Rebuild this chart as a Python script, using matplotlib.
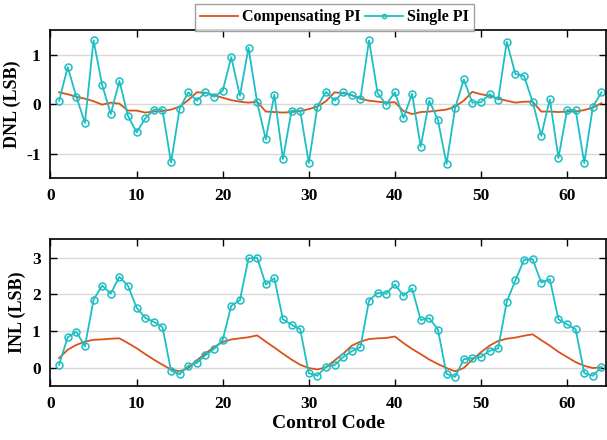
import numpy as np
import matplotlib
matplotlib.use("Agg")
import matplotlib.pyplot as plt

codes = list(range(1, 65))

dnl_comp = [0.24, 0.20, 0.15, 0.11, 0.06, -0.01, 0.03, 0.01, -0.13, -0.13,
            -0.17, -0.15, -0.14, -0.11, -0.05, 0.08, 0.24, 0.23, 0.18, 0.13,
            0.08, 0.05, 0.03, 0.05, -0.15, -0.16, -0.17, -0.16, -0.14, -0.10,
            -0.05, 0.06, 0.24, 0.22, 0.18, 0.11, 0.07, 0.05, 0.03, 0.04,
            -0.14, -0.20, -0.16, -0.15, -0.13, -0.11, -0.05, 0.07, 0.25, 0.20,
            0.17, 0.11, 0.07, 0.03, 0.05, 0.05, -0.15, -0.15, -0.16, -0.15,
            -0.15, -0.12, -0.07, 0.02]

dnl_single = [0.07, 0.75, 0.15, -0.38, 1.29, 0.39, -0.20, 0.47, -0.24, -0.57,
              -0.29, -0.11, -0.11, -1.18, -0.09, 0.24, 0.07, 0.24, 0.15, 0.27,
              0.95, 0.17, 1.14, 0.04, -0.71, 0.19, -1.11, -0.13, -0.13, -1.19,
              -0.05, 0.25, 0.07, 0.24, 0.18, 0.11, 1.29, 0.22, -0.01, 0.24,
              -0.28, 0.21, -0.86, 0.07, -0.32, -1.21, -0.08, 0.50, 0.03, 0.04,
              0.20, 0.09, 1.26, 0.61, 0.57, 0.05, -0.64, 0.10, -1.09, -0.12,
              -0.12, -1.19, -0.05, 0.24]

inl_comp = [0.26, 0.49, 0.62, 0.71, 0.76, 0.77, 0.79, 0.80, 0.67, 0.53,
            0.37, 0.22, 0.08, -0.05, -0.10, -0.01, 0.20, 0.39, 0.56, 0.70,
            0.77, 0.80, 0.83, 0.88, 0.71, 0.55, 0.38, 0.22, 0.08, -0.01,
            -0.05, 0.01, 0.20, 0.38, 0.60, 0.71, 0.78, 0.80, 0.81, 0.85,
            0.67, 0.51, 0.37, 0.22, 0.10, -0.01, -0.10, -0.01, 0.22, 0.42,
            0.60, 0.73, 0.79, 0.82, 0.87, 0.91, 0.75, 0.60, 0.43, 0.29,
            0.15, 0.05, -0.01, 0.01]

inl_single = [0.08, 0.83, 0.98, 0.58, 1.85, 2.24, 2.02, 2.48, 2.23, 1.64,
              1.36, 1.25, 1.11, -0.08, -0.18, 0.05, 0.13, 0.34, 0.51, 0.76,
              1.69, 1.84, 2.98, 3.00, 2.27, 2.44, 1.32, 1.17, 1.05, -0.15,
              -0.22, 0.03, 0.07, 0.29, 0.45, 0.56, 1.83, 2.04, 2.02, 2.27,
              1.96, 2.16, 1.30, 1.35, 1.04, -0.17, -0.25, 0.23, 0.26, 0.29,
              0.46, 0.53, 1.80, 2.38, 2.94, 2.96, 2.32, 2.41, 1.32, 1.18,
              1.05, -0.15, -0.22, 0.02]

x_ticks = [0, 10, 20, 30, 40, 50, 60]
dnl_ticks = [-1, 0, 1]
inl_ticks = [0, 1, 2, 3]

plt.rcParams['font.family'] = ['Liberation Serif', 'DejaVu Serif']
plt.rcParams['font.weight'] = 'bold'

orange = '#D95319'
cyan = '#1CBFC4'

fig = plt.figure(figsize=(6.07, 4.40), dpi=100)
ax1 = fig.add_axes([50.5/607, 1-178.3/440, (607-50.5)/607 - 0.002, (178.3-30)/440])
ax2 = fig.add_axes([50.5/607, 1-386/440, (607-50.5)/607 - 0.002, (386-239.3)/440])

def style(ax, yticks, ylim, ylabel):
    ax.set_xlim(0, 64.5)
    ax.set_ylim(*ylim)
    ax.set_xticks(x_ticks)
    ax.set_yticks(yticks)
    ax.set_xticklabels([str(t) for t in x_ticks], fontsize=12.5, fontweight='bold')
    ax.set_yticklabels([str(t) for t in yticks], fontsize=12.5, fontweight='bold')
    ax.tick_params(direction='in', top=True, right=True, length=5, width=1, pad=7)
    ax.yaxis.grid(True, color='#d9d9d9', linewidth=1)
    ax.set_axisbelow(True)
    for s in ax.spines.values():
        s.set_linewidth(1.2)
    ax.set_ylabel(ylabel, fontsize=13, fontweight='bold', labelpad=4)

l1, = ax1.plot(codes, dnl_comp, color=orange, lw=1.3, label='Compensating PI')
l2, = ax1.plot(codes, dnl_single, color=cyan, lw=1.3, marker='o', ms=5,
               mfc='none', mec=cyan, mew=1.1, label='Single PI')
style(ax1, dnl_ticks, (-1.5, 1.5), 'DNL (LSB)')

ax2.plot(codes, inl_comp, color=orange, lw=1.3)
ax2.plot(codes, inl_single, color=cyan, lw=1.3, marker='o', ms=5,
         mfc='none', mec=cyan, mew=1.1)
style(ax2, inl_ticks, (-0.5, 3.5), 'INL (LSB)')
ax2.set_xlabel('Control Code', fontsize=14, fontweight='bold', labelpad=2)

leg = fig.legend(handles=[l1, l2], loc='upper center', bbox_to_anchor=(0.551, 0.991),
                 ncol=2, frameon=True, fancybox=False, edgecolor='#888888',
                 prop={'weight': 'bold', 'size': 11.5},
                 handlelength=2.4, handletextpad=0.25, columnspacing=0.25,
                 borderpad=0.33, borderaxespad=0.0, markerscale=0.6)
leg.get_frame().set_linewidth(1.0)

fig.savefig('out.png', dpi=100)
